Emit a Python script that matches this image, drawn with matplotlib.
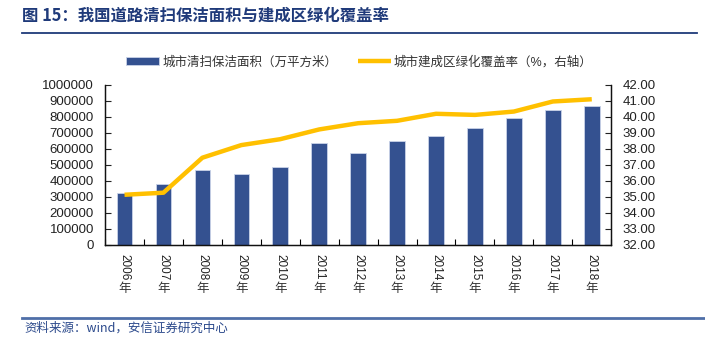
import matplotlib.pyplot as plt
import numpy as np

plt.rcParams['font.family'] = ['Liberation Sans', 'Noto Sans CJK SC', 'DejaVu Sans']

years = ['2006', '2007', '2008', '2009', '2010', '2011', '2012',
         '2013', '2014', '2015', '2016', '2017', '2018']
clean_area = [320800, 377000, 466700, 443700, 483000, 633000, 573000,
              648000, 677000, 731000, 791600, 845700, 868700]
green_rate = [35.12, 35.25, 37.44, 38.23, 38.60, 39.21, 39.60,
              39.75, 40.19, 40.12, 40.33, 40.96, 41.10]

bar_color = '#345190'
line_color = '#FFC000'
navy = '#1F3A7A'
cjk = ['Noto Sans CJK SC', 'DejaVu Sans']

fig = plt.figure(figsize=(7.05, 3.45), dpi=100)
ax = fig.add_axes([0.149, 0.291, 0.718, 0.463])
ax2 = ax.twinx()

x = np.arange(len(years))
bars = ax.bar(x, clean_area, width=0.4, color=bar_color, edgecolor='#C9D3E8',
              linewidth=0.6, label='城市清扫保洁面积（万平方米）', zorder=2)
line, = ax2.plot(x, green_rate, color=line_color, lw=3.2, solid_capstyle='butt',
                 label='城市建成区绿化覆盖率（%，右轴）', zorder=3)

ax.set_xlim(-0.5, 12.5)
ax.set_ylim(0, 1000000)
ax.set_yticks(np.arange(0, 1000001, 100000))
ax.set_yticklabels([str(v) for v in range(0, 1000001, 100000)])
ax2.set_ylim(32, 42)
ax2.set_yticks(np.arange(32, 42.01, 1))
ax2.set_yticklabels([f'{v:.2f}' for v in np.arange(32, 42.01, 1)])

# category ticks sit on the boundaries; year labels drawn by hand below
ax.set_xticks(np.arange(-0.5, 12.6, 1))
ax.set_xticklabels([])
ax.tick_params(axis='x', direction='in', length=4, width=0.8)
for i, y in enumerate(years):
    # digits run downward, the 年 character stays upright
    ax.annotate(y, xy=(i, 0), xycoords=('data', 'axes fraction'),
                xytext=(0, -6.6), textcoords='offset points', rotation=-90,
                ha='center', va='top', fontsize=8.5, color='#222222')
    ax.annotate('年', xy=(i, 0), xycoords=('data', 'axes fraction'),
                xytext=(0, -26.8), textcoords='offset points',
                ha='center', va='top', fontsize=9, color='#333333', family=cjk)

ax.tick_params(axis='y', direction='in', length=4, width=0.8, labelsize=9.5, pad=8,
               colors='#222222')
ax2.tick_params(axis='y', direction='in', length=4, width=0.8, labelsize=9.5, pad=8,
                colors='#222222')

for a in (ax, ax2):
    a.spines['top'].set_visible(False)
    for s in ('left', 'right', 'bottom'):
        a.spines[s].set_linewidth(0.9)
        a.spines[s].set_color('#111111')
    a.set_facecolor('none')

fig.legend(handles=[bars, line], loc='center', bbox_to_anchor=(0.51, 0.82),
           ncol=2, frameon=False, fontsize=9, columnspacing=1.7,
           handlelength=2.6, handletextpad=0.25, labelcolor='#333333')

# header and source lines
fig.text(0.031, 0.955, '图 15：我国道路清扫保洁面积与建成区绿化覆盖率',
         fontsize=11.8, fontweight='bold', color=navy, va='center', family=cjk)
fig.add_artist(plt.Line2D([0.031, 0.989], [0.905, 0.905], color=navy, lw=1.3))
fig.add_artist(plt.Line2D([0.031, 1.0], [0.078, 0.078], color='#4F6FA8', lw=2.0))
fig.text(0.035, 0.049, '资料来源：wind，安信证券研究中心', fontsize=9, style='italic',
         color='#2C4A8C', va='center', family=cjk)

fig.savefig('out.png', dpi=100)
